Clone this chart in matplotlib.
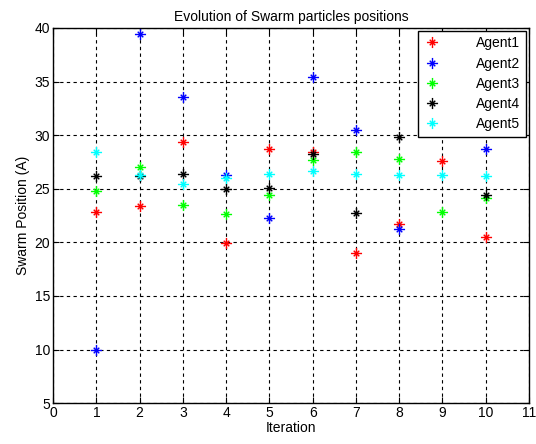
import numpy as np
import matplotlib.pyplot as plt
from matplotlib.path import Path

plt.rcParams['font.family'] = ['Liberation Sans', 'DejaVu Sans']

# data
iterations = [1, 2, 3, 4, 5, 6, 7, 8, 9, 10]
agent1 = [22.85, 23.4, 29.4, 19.9, 28.7, 28.4, 19.0, 21.7, 27.55, 20.5]
agent2 = [9.95, 39.4, 33.6, 26.3, 22.3, 35.4, 30.5, 21.2, 33.0, 28.7]
agent3 = [24.8, 27.0, 23.5, 22.6, 24.4, 27.7, 28.4, 27.8, 22.8, 24.1]
agent4 = [26.2, 26.2, 26.4, 25.0, 25.1, 28.2, 22.75, 29.85, 31.0, 24.4]
agent5 = [28.4, 26.3, 25.4, 26.0, 26.4, 26.65, 26.4, 26.3, 26.3, 26.2]
agent_names = ['Agent1', 'Agent2', 'Agent3', 'Agent4', 'Agent5']
agent_colors = ['#ff0000', '#0000ff', '#00ff00', '#000000', '#00ffff']

# MATLAB-like asterisk: plus with shorter diagonals
d = 0.5
verts = [(-1, 0), (1, 0), (0, -1), (0, 1),
         (-d, -d), (d, d), (-d, d), (d, -d)]
codes = [Path.MOVETO, Path.LINETO] * 4
asterisk = Path(verts, codes)

fig = plt.figure(figsize=(5.36, 4.44), dpi=100)
ax = fig.add_axes([0.099, 0.092, 0.888, 0.845])

series = [agent1, agent2, agent3, agent4, agent5]
for vals, name, col in zip(series, agent_names, agent_colors):
    ax.plot(iterations, vals, linestyle='none', marker=asterisk,
            markersize=8, markeredgewidth=1.0, color=col, label=name)

ax.set_xlim(0, 11)
ax.set_ylim(5, 40)
ax.set_xticks(range(0, 12))
ax.set_yticks(range(5, 41, 5))
ax.tick_params(direction='in', top=True, right=True, length=4,
               labelsize=10, colors='black', pad=2)
ax.grid(True, color='black', linestyle=(0, (3, 3)), linewidth=0.8)
ax.set_axisbelow(True)
for sp in ax.spines.values():
    sp.set_linewidth(1.0)

ax.set_title('Evolution of Swarm particles positions', fontsize=10, pad=5)
ax.set_xlabel('Iteration', fontsize=10, labelpad=1)
ax.set_ylabel('Swarm Position (A)', fontsize=10, labelpad=3)

leg = ax.legend(loc='upper right', fontsize=10, fancybox=False,
                framealpha=1, edgecolor='black', handlelength=1.2,
                handletextpad=2.6, borderaxespad=0.2, labelspacing=0.45,
                borderpad=0.4)
leg.get_frame().set_linewidth(1.0)
leg.set_zorder(10)

fig.savefig('out.png', dpi=100)
